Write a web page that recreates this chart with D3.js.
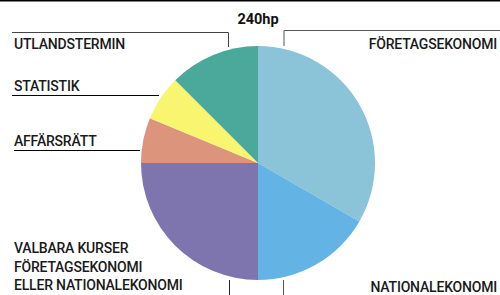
<!DOCTYPE html>
<html>
<head>
<meta charset="utf-8">
<script src="https://cdn.jsdelivr.net/npm/d3@7"></script>
<style>
  html, body { margin: 0; padding: 0; background: #fff; }
  svg { display: block; }
  .lbl { font-family: Roboto, 'Noto Sans', sans-serif; font-size: 14px; font-weight: 500; fill: #1a1a1a; letter-spacing: -0.2px; }
  .title { font-family: Roboto, sans-serif; font-size: 14.5px; font-weight: 700; fill: #111; }
</style>
</head>
<body>
<svg id="chart" width="500" height="295"></svg>
<script>
// hp per course block, 240hp total
const categories = ['Företagsekonomi', 'Nationalekonomi', 'Valbara kurser', 'Affärsrätt', 'Statistik', 'Utlandstermin'];
const credits = [80, 40, 60, 15, 15, 30];
const colors = ['#8bc3d8', '#63b3e4', '#7e74ae', '#dc957c', '#f9f56f', '#4aa99b'];
const title = '240hp';

const svg = d3.select('#chart');
const w = 500, h = 295;
const cx = 258, cy = 163, r = 117;

svg.append('line').attr('x1', 0).attr('x2', w).attr('y1', 0.5).attr('y2', 0.5)
  .attr('stroke', '#000').attr('stroke-width', 2);

const pie = d3.pie().sort(null).value(d => d);
const arc = d3.arc().innerRadius(0).outerRadius(r);
const g = svg.append('g').attr('transform', `translate(${cx},${cy})`);
g.selectAll('path').data(pie(credits)).enter().append('path')
  .attr('d', arc)
  .attr('fill', (d, i) => colors[i]);

svg.append('text').attr('class', 'title').attr('x', cx).attr('y', 24)
  .attr('text-anchor', 'middle').text(title);

// label layout: text lines, anchor, leader line path
const labels = [
  {lines: ['FÖRETAGSEKONOMI'], x: 497, y: 49, anchor: 'end', path: [[284, 46], [284, 30.5], [500, 30.5]], color: '#555', sw: 1},
  {lines: ['NATIONALEKONOMI'], x: 497, y: 292, anchor: 'end', path: [[283.5, 280], [283.5, 295]], color: '#555', sw: 1},
  {lines: ['VALBARA KURSER', 'FÖRETAGSEKONOMI', 'ELLER NATIONALEKONOMI'], x: 14, y: 253, anchor: 'start', path: [[229.5, 280], [229.5, 295]], color: '#222', sw: 1},
  {lines: ['AFFÄRSRÄTT'], x: 14, y: 146, anchor: 'start', path: [[14, 150.5], [140, 150.5]], color: '#000', sw: 1},
  {lines: ['STATISTIK'], x: 14, y: 91, anchor: 'start', path: [[12, 95.5], [159, 95.5]], color: '#000', sw: 1},
  {lines: ['UTLANDSTERMIN'], x: 14, y: 49, anchor: 'start', path: [[12, 32.5], [228.5, 32.5], [228.5, 47]], color: '#444', sw: 1}
];

const line = d3.line();
labels.forEach(l => {
  svg.append('path').attr('d', line(l.path)).attr('fill', 'none')
    .attr('stroke', l.color).attr('stroke-width', l.sw);
  const t = svg.append('text').attr('class', 'lbl').attr('x', l.x).attr('y', l.y)
    .attr('text-anchor', l.anchor);
  l.lines.forEach((s, i) => {
    t.append('tspan').attr('x', l.x).attr('dy', i === 0 ? 0 : 18.5).text(s);
  });
});
</script>
</body>
</html>
